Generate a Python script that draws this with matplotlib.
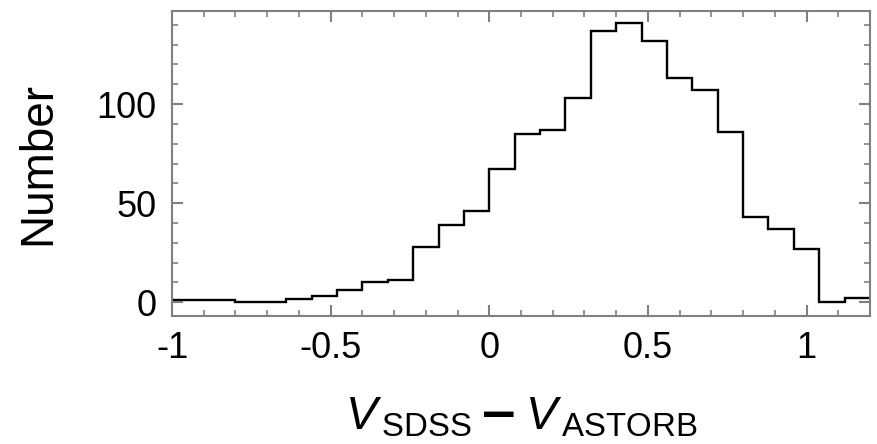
import matplotlib
matplotlib.use("Agg")
import matplotlib.pyplot as plt

# histogram bin edges (width 0.08) and counts
edges = [-1.04, -0.96, -0.88, -0.80, -0.72, -0.64, -0.56, -0.48, -0.40, -0.32,
         -0.24, -0.16, -0.08, 0.00, 0.08, 0.16, 0.24, 0.32, 0.40, 0.48,
         0.56, 0.64, 0.72, 0.80, 0.88, 0.96, 1.04, 1.12, 1.20]
counts = [1, 1, 1, 0, 0, 1.5, 3, 6, 10, 11,
          28, 39, 46, 67, 85, 87, 103, 137, 141, 132,
          113, 107, 86, 43, 37, 27, 0, 2]

xticks = [-1, -0.5, 0, 0.5, 1]
xticklabels = ["-1", "-0.5", "0", "0.5", "1"]
yticks = [0, 50, 100]

plt.rcParams["font.family"] = ["Liberation Sans", "DejaVu Sans"]
plt.rcParams["mathtext.fontset"] = "custom"
plt.rcParams["mathtext.rm"] = "Liberation Sans"
plt.rcParams["mathtext.it"] = "Liberation Sans:italic"

fig = plt.figure(figsize=(8.77, 4.44), dpi=100)
ax = fig.add_axes([172 / 877, 1 - 316 / 444, (870 - 172) / 877, (316 - 11) / 444])

ax.stairs(counts, edges, baseline=None, color="black", linewidth=1.7)

ax.set_xlim(-1, 1.2)
ax.set_ylim(-7, 147)
ax.set_xticks(xticks)
ax.set_xticklabels(xticklabels)
ax.set_xticks([v / 10 for v in range(-10, 13)], minor=True)
ax.set_yticks(yticks)
ax.set_yticks(list(range(0, 150, 10)), minor=True)

gray = "#808080"
for s in ax.spines.values():
    s.set_color(gray)
    s.set_linewidth(1.5)
ax.tick_params(which="both", direction="in", top=True, right=True, color=gray)
ax.tick_params(which="major", length=8, width=1.5, labelsize=26, pad=11)
ax.tick_params(which="minor", length=4, width=1.2)

ax.set_ylabel("Number", fontsize=33, labelpad=26)
ax.set_xlabel(r"$V_{\,\mathrm{SDSS}}\,\mathbf{-}\,V_{\,\mathrm{ASTORB}}$", fontsize=34, labelpad=21)

fig.savefig("out.png", dpi=100)
